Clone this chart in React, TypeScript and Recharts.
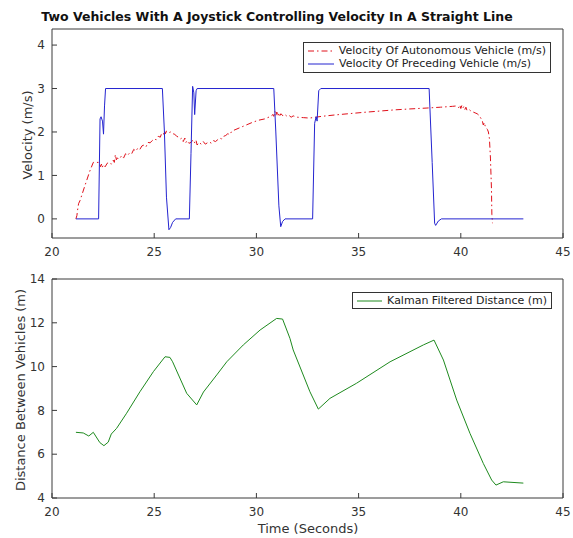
import React from 'react';
import { Line, LineChart, XAxis, YAxis } from 'recharts';

// time (s) / velocity (m/s) of the autonomous vehicle
const autoTime = [
  21.17, 21.22, 21.25, 21.3, 21.37, 21.6, 21.85, 22.02, 22.3, 22.38, 22.42, 22.45,
  22.52, 22.6, 22.7, 22.8, 22.9, 23.0, 23.05, 23.1, 23.15, 23.2, 23.3, 23.4, 23.5,
  23.6, 23.7, 23.8, 23.9, 24.0, 24.1, 24.2, 24.3, 24.4, 24.5, 24.6, 24.7, 24.8,
  24.9, 25.0, 25.1, 25.2, 25.3, 25.35, 25.45, 25.5, 25.55, 25.6, 25.7, 25.8, 25.9,
  26.0, 26.1, 26.2, 26.3, 26.35, 26.42, 26.5, 26.55, 26.6, 26.7, 26.8, 26.9, 27.0,
  27.05, 27.1, 27.2, 27.3, 27.4, 27.5, 27.6, 27.7, 27.8, 27.9, 28.0, 28.1, 28.2,
  28.3, 28.4, 28.5, 28.6, 28.7, 28.8, 29.0, 29.2, 29.5, 29.8, 30.1, 30.4, 30.7,
  30.8, 30.85, 30.9, 30.95, 31.0, 31.05, 31.1, 31.15, 31.2, 31.3, 31.4, 31.5, 31.6,
  31.7, 31.8, 32.0, 32.3, 32.6, 32.9, 33.2, 33.8, 34.5, 35.2, 36.0, 36.8, 37.5,
  38.3, 39.0, 39.6, 39.8, 39.9, 39.95, 40.0, 40.05, 40.1, 40.15, 40.2, 40.25, 40.3,
  40.4, 40.5, 40.6, 40.7, 40.8, 40.9, 41.0, 41.05, 41.1, 41.15, 41.2, 41.3, 41.35,
  41.4, 41.45, 41.5, 41.52, 41.55,
];
const autoVelocity = [
  0, 0.08, 0.2, 0.35, 0.42, 0.75, 1.1, 1.3, 1.3, 1.2, 1.26, 1.18,
  1.25, 1.2, 1.28, 1.3, 1.26, 1.35, 1.3, 1.48, 1.36, 1.4, 1.38, 1.45, 1.4,
  1.5, 1.46, 1.52, 1.5, 1.6, 1.56, 1.63, 1.6, 1.68, 1.7, 1.66, 1.76, 1.75,
  1.8, 1.84, 1.82, 1.9, 1.88, 1.95, 1.93, 2.03, 1.96, 2.02, 1.98, 2.0, 1.96,
  1.95, 1.9, 1.88, 1.84, 1.86, 1.78, 1.86, 1.76, 1.8, 1.74, 1.76, 1.82, 1.74,
  1.8, 1.7, 1.76, 1.72, 1.78, 1.72, 1.75, 1.77, 1.74, 1.8, 1.78, 1.82, 1.86,
  1.84, 1.9, 1.92, 1.96, 1.94, 2.02, 2.06, 2.1, 2.16, 2.22, 2.27, 2.3, 2.36,
  2.4, 2.36, 2.48, 2.38, 2.46, 2.36, 2.44, 2.38, 2.42, 2.37, 2.4, 2.36, 2.38,
  2.34, 2.37, 2.34, 2.33, 2.32, 2.34, 2.36, 2.39, 2.42, 2.45, 2.48, 2.51, 2.53,
  2.55, 2.57, 2.59, 2.6, 2.56, 2.62, 2.54, 2.61, 2.55, 2.59, 2.52, 2.57, 2.5,
  2.52, 2.48, 2.46, 2.44, 2.42, 2.38, 2.3, 2.26, 2.16, 2.22, 2.12, 2.06, 2.0,
  1.85, 1.4, 0.7, 0.1, -0.1, -0.05,
];

// time (s) / velocity (m/s) of the preceding vehicle
const leadTime = [
  21.17, 22.28, 22.35, 22.4, 22.47, 22.52, 22.57, 22.62, 25.4, 25.5, 25.6, 25.72,
  25.8, 25.9, 26.05, 26.72, 26.8, 26.88, 26.94, 26.98, 27.05, 27.1, 30.85, 30.95,
  31.1, 31.19, 31.28, 31.4, 32.75, 32.85, 32.92, 32.97, 33.05, 33.15, 38.45, 38.6,
  38.72, 38.77, 38.9, 39.05, 43.06,
];
const leadVelocity = [
  0, 0, 2.3, 2.35, 2.25, 1.95, 2.6, 3.0, 3.0, 2.0, 0.5, -0.25,
  -0.2, -0.08, 0, 0, 1.5, 3.05, 2.9, 2.4, 2.95, 3.0, 3.0, 2.0,
  0.3, -0.18, -0.06, 0, 0, 2.2, 2.35, 2.25, 2.95, 3.0, 3.0, 1.3,
  -0.1, -0.15, -0.05, 0, 0,
];

// time (s) / Kalman filtered distance (m)
const distTime = [
  21.17, 21.53, 21.8, 22.02, 22.34, 22.54, 22.75, 22.9, 23.16, 23.65, 24.3, 24.96,
  25.53, 25.77, 25.9, 26.59, 27.08, 27.41, 28.06, 28.55, 29.36, 30.18, 30.99,
  31.28, 31.64, 31.8, 32.62, 33.03, 33.6, 34.9, 36.54, 38.17, 38.69, 39.15, 39.8,
  40.45, 41.1, 41.51, 41.72, 42.08, 43.06,
];
const distValue = [
  7.0, 6.97, 6.83, 7.0, 6.53, 6.39, 6.55, 6.92, 7.18, 7.87, 8.85, 9.77,
  10.45, 10.42, 10.22, 8.78, 8.25, 8.84, 9.62, 10.22, 10.99, 11.67, 12.2,
  12.17, 11.29, 10.76, 8.85, 8.06, 8.55, 9.24, 10.22, 10.99, 11.21, 10.3, 8.47,
  6.95, 5.58, 4.82, 4.59, 4.74, 4.68,
];

const timeTicks = [20, 25, 30, 35, 40, 45];
const velocityTicks = [0, 1, 2, 3, 4];
const distanceTicks = [4, 6, 8, 10, 12, 14];

const autoData = autoTime.map((t, i) => ({ t, v: autoVelocity[i] }));
const leadData = leadTime.map((t, i) => ({ t, v: leadVelocity[i] }));
const distData = distTime.map((t, i) => ({ t, d: distValue[i] }));

const FONT = '"DejaVu Sans", sans-serif';
const AXIS = '#3a3a3a';
const RED = '#e0101a';
const BLUE = '#2424d0';
const GREEN = '#1e8a1e';
const DASHDOT = '6 3 1.5 3';

const tickStyle = { fontSize: 12, fill: '#333', fontFamily: FONT };

function LegendBox({
  items,
  style,
}: {
  items: { label: string; color: string; dash?: string }[];
  style: React.CSSProperties;
}) {
  return (
    <div
      style={{
        position: 'absolute',
        background: '#fff',
        border: '1px solid #333',
        fontFamily: FONT,
        fontSize: 11,
        color: '#222',
        padding: '1px 4px',
        boxSizing: 'border-box',
        ...style,
      }}
    >
      {items.map((it) => (
        <div key={it.label} style={{ display: 'flex', alignItems: 'center', height: 13 }}>
          <svg width={26} height={6} style={{ marginRight: 5 }}>
            <line x1={0} x2={26} y1={3} y2={3} stroke={it.color} strokeWidth={1} strokeDasharray={it.dash} />
          </svg>
          <span style={{ whiteSpace: 'nowrap' }}>{it.label}</span>
        </div>
      ))}
    </div>
  );
}

// one MATLAB-style boxed panel: ticks inward on all four sides
function Panel({
  height,
  marginBottom,
  yDomain,
  yTicks,
  children,
}: {
  height: number;
  marginBottom: number;
  yDomain: number[];
  yTicks: number[];
  children: React.ReactNode;
}) {
  return (
    <LineChart width={573} height={height} margin={{ top: 28, right: 9, left: 22, bottom: marginBottom }}>
      <XAxis
        xAxisId="b"
        dataKey="t"
        type="number"
        domain={[20, 45]}
        ticks={timeTicks}
        interval={0}
        allowDataOverflow
        height={30}
        stroke={AXIS}
        tickSize={-5}
        tickMargin={14}
        tick={tickStyle}
      />
      <XAxis
        xAxisId="top"
        orientation="top"
        type="number"
        domain={[20, 45]}
        ticks={timeTicks}
        interval={0}
        height={1}
        stroke={AXIS}
        tickSize={-5}
        tick={false}
      />
      <YAxis
        yAxisId="l"
        type="number"
        domain={yDomain}
        ticks={yTicks}
        interval={0}
        allowDataOverflow
        width={30}
        stroke={AXIS}
        tickSize={-5}
        tickMargin={12}
        tick={tickStyle}
      />
      <YAxis
        yAxisId="r"
        orientation="right"
        type="number"
        domain={yDomain}
        ticks={yTicks}
        interval={0}
        width={1}
        stroke={AXIS}
        tickSize={-5}
        tick={false}
      />
      {children}
    </LineChart>
  );
}

export default function App() {
  return (
    <div style={{ position: 'absolute', left: 0, top: 0, width: 573, height: 538, background: '#fff' }}>
      <div style={{ position: 'absolute', left: 0, top: 0 }}>
        <Panel height={268} marginBottom={0} yDomain={[-0.44, 4.37]} yTicks={velocityTicks}>
          <Line
            data={autoData}
            xAxisId="b"
            yAxisId="l"
            dataKey="v"
            type="linear"
            stroke={RED}
            strokeWidth={1}
            strokeDasharray={DASHDOT}
            dot={false}
            isAnimationActive={false}
          />
          <Line
            data={leadData}
            xAxisId="b"
            yAxisId="l"
            dataKey="v"
            type="linear"
            stroke={BLUE}
            strokeWidth={1}
            dot={false}
            isAnimationActive={false}
          />
        </Panel>
      </div>

      <div style={{ position: 'absolute', left: 0, top: 250 }}>
        <Panel height={288} marginBottom={10} yDomain={[4, 14]} yTicks={distanceTicks}>
          <Line
            data={distData}
            xAxisId="b"
            yAxisId="l"
            dataKey="d"
            type="linear"
            stroke={GREEN}
            strokeWidth={1}
            dot={false}
            isAnimationActive={false}
          />
        </Panel>
      </div>

      <svg width={573} height={538} style={{ position: 'absolute', left: 0, top: 0, pointerEvents: 'none' }}>
        <text x={277} y={21} textAnchor="middle" fontFamily={FONT} fontWeight="bold" fontSize={12.5} fill="#111">
          Two Vehicles With A Joystick Controlling Velocity In A Straight Line
        </text>
        <text
          x={0}
          y={0}
          transform="translate(32,135) rotate(-90)"
          textAnchor="middle"
          fontFamily={FONT}
          fontSize={13}
          fill="#333"
        >
          Velocity (m/s)
        </text>
        <text
          x={0}
          y={0}
          transform="translate(25,390) rotate(-90)"
          textAnchor="middle"
          fontFamily={FONT}
          fontSize={13}
          fill="#333"
        >
          Distance Between Vehicles (m)
        </text>
        <text x={308} y={533} textAnchor="middle" fontFamily={FONT} fontSize={13} fill="#333">
          Time (Seconds)
        </text>
      </svg>

      <LegendBox
        style={{ left: 303, top: 42, width: 248, height: 31 }}
        items={[
          { label: 'Velocity Of Autonomous Vehicle (m/s)', color: RED, dash: DASHDOT },
          { label: 'Velocity Of Preceding Vehicle (m/s)', color: BLUE },
        ]}
      />
      <LegendBox
        style={{ left: 352, top: 292, width: 200, height: 17 }}
        items={[{ label: 'Kalman Filtered Distance (m)', color: GREEN }]}
      />
    </div>
  );
}
